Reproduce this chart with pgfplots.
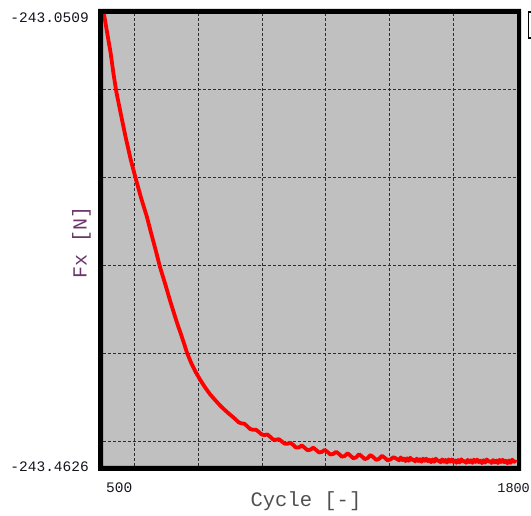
\documentclass[border=0pt]{standalone}
\usepackage{pgfplots}
\usepackage{pgfplotstable}
\pgfplotsset{compat=1.18}
\usepackage{fontspec}
\setmainfont{Liberation Mono}
\setmonofont{Liberation Mono}

\definecolor{plotbg}{RGB}{192,192,192}
\definecolor{gridcol}{RGB}{45,45,45}
\definecolor{fxlabel}{RGB}{105,55,105}
\definecolor{cyclabel}{RGB}{80,80,80}
\definecolor{ticklab}{RGB}{20,20,30}

% All force values share the prefix -243. ; strip it as text so the
% narrow range is mapped without floating point rounding.
\def\fxstrip-243.#1\relax{\edef\pgfmathresult{-0.#1}}

\pgfplotstableread{
cycle fx
503 -243.0509
513 -243.0680
524 -243.0864
533 -243.1054
542 -243.1220
556 -243.1420
571 -243.1630
587 -243.1835
604 -243.2021
620 -243.2188
638 -243.2358
651 -243.2504
665 -243.2655
679 -243.2814
695 -243.2965
710 -243.3114
730 -243.3300
751 -243.3479
764 -243.3596
778 -243.3695
792 -243.3775
805 -243.3840
820 -243.3908
836 -243.3972
852 -243.4025
870 -243.4082
890 -243.4136
908 -243.4180
917 -243.4203
926 -243.4228
935 -243.4238
944 -243.4241
953 -243.4264
962 -243.4289
971 -243.4296
980 -243.4295
989 -243.4315
998 -243.4338
1007 -243.4345
1016 -243.4339
1025 -243.4360
1034 -243.4384
1043 -243.4388
1052 -243.4381
1061 -243.4401
1070 -243.4422
1079 -243.4423
1088 -243.4414
1097 -243.4433
1106 -243.4458
1115 -243.4457
1124 -243.4439
1133 -243.4459
1142 -243.4482
1151 -243.4478
1160 -243.4459
1169 -243.4479
1178 -243.4502
1187 -243.4498
1196 -243.4479
1205 -243.4498
1214 -243.4521
1223 -243.4516
1232 -243.4497
1241 -243.4516
1250 -243.4541
1259 -243.4535
1268 -243.4510
1277 -243.4532
1286 -243.4556
1295 -243.4547
1304 -243.4519
1313 -243.4539
1322 -243.4563
1331 -243.4554
1340 -243.4526
1349 -243.4546
1358 -243.4570
1367 -243.4561
1376 -243.4533
1385 -243.4552
1394 -243.4575
1403 -243.4565
1412 -243.4546
1421 -243.4559
1430 -243.4574
1435 -243.4548
1440 -243.4572
1445 -243.4558
1450 -243.4581
1455 -243.4556
1460 -243.4579
1465 -243.4550
1470 -243.4572
1475 -243.4566
1480 -243.4584
1485 -243.4559
1490 -243.4580
1495 -243.4564
1500 -243.4587
1505 -243.4559
1510 -243.4579
1515 -243.4559
1520 -243.4582
1525 -243.4569
1530 -243.4591
1535 -243.4566
1540 -243.4588
1545 -243.4559
1550 -243.4581
1555 -243.4574
1560 -243.4592
1565 -243.4566
1570 -243.4588
1575 -243.4571
1580 -243.4595
1585 -243.4566
1590 -243.4587
1595 -243.4566
1600 -243.4589
1605 -243.4575
1610 -243.4597
1615 -243.4571
1620 -243.4594
1625 -243.4565
1630 -243.4586
1635 -243.4579
1640 -243.4596
1645 -243.4570
1650 -243.4591
1655 -243.4574
1660 -243.4597
1665 -243.4568
1670 -243.4589
1675 -243.4568
1680 -243.4591
1685 -243.4577
1690 -243.4599
1695 -243.4573
1700 -243.4595
1705 -243.4566
1710 -243.4587
1715 -243.4580
1720 -243.4598
1725 -243.4572
1730 -243.4593
1735 -243.4576
1740 -243.4599
1745 -243.4570
1750 -243.4590
1755 -243.4569
1760 -243.4592
1765 -243.4578
1770 -243.4601
1775 -243.4575
1780 -243.4597
1785 -243.4568
1790 -243.4589
1795 -243.4582
}\fxdata

\begin{document}
\begin{tikzpicture}
\useasboundingbox (0,0) rectangle (531bp,516bp);
\begin{axis}[
  name=main,
  at={(103bp,50bp)}, anchor=south west,
  scale only axis, width=414bp, height=452bp,
  xmin=500, xmax=1800,
  y coord trafo/.code={\fxstrip#1\relax},
  ymin=-243.4626, ymax=-243.0509,
  axis background/.style={fill=plotbg},
  axis line style={draw=none},
  xtick={600,800,1000,1200,1400,1600},
  ytick={-243.44,-243.36,-243.28,-243.20,-243.12},
  xticklabels={}, yticklabels={},
  major tick length=0pt,
  xmajorgrids, ymajorgrids,
  grid style={gridcol, line width=1.1bp, dash pattern=on 2.5bp off 2.5bp},
  clip=true,
]
\addplot[red, line width=3.8bp, line join=round, line cap=round] table[x=cycle,y=fx]{\fxdata};
\end{axis}

% heavy frame around the plot area
\fill[black, even odd rule] (98bp,45bp) rectangle (521bp,507bp)
  (main.south west) rectangle (main.north east);
% edge of the neighbouring box
\draw[black, line width=1.2bp] (531bp,504bp) -- (528.5bp,504bp) -- (528.5bp,478bp) -- (531bp,478bp);

% axis extremes
\node[anchor=east, inner sep=0pt, text=ticklab, font=\fontsize{14.5bp}{16bp}\selectfont] at (89bp,498.5bp) {-243.0509};
\node[anchor=east, inner sep=0pt, text=ticklab, font=\fontsize{14.5bp}{16bp}\selectfont] at (89bp,49bp) {-243.4626};
\node[anchor=west, inner sep=0pt, text=ticklab, font=\fontsize{14.5bp}{16bp}\selectfont] at (106bp,28bp) {500};
\node[anchor=east, inner sep=0pt, text=ticklab, font=\fontsize{13.5bp}{15bp}\selectfont] at (530bp,28bp) {1800};

% axis titles
\node[inner sep=0pt, text=cyclabel, font=\fontsize{20.5bp}{22bp}\selectfont] at (306bp,15bp) {Cycle [-]};
\node[inner sep=0pt, rotate=90, text=fxlabel, font=\fontsize{20bp}{22bp}\selectfont] at (81.5bp,274bp) {Fx [N]};
\end{tikzpicture}
\end{document}
